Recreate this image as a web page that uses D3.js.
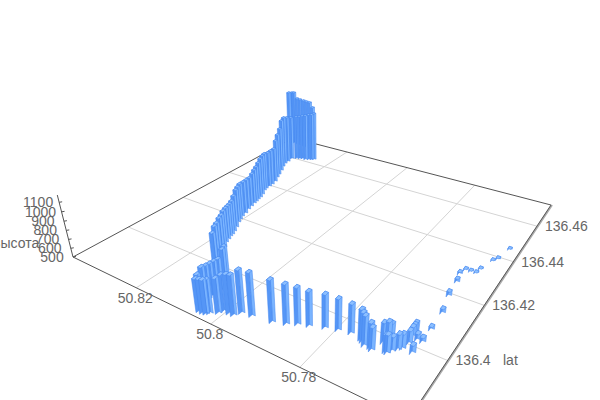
<!DOCTYPE html>
<html><head><meta charset="utf-8"><style>html,body{margin:0;background:#fff}svg{display:block}text{font-family:"Liberation Sans",Arial,sans-serif;fill:#666}</style>
<script src="https://cdn.jsdelivr.net/npm/d3@7"></script></head><body><svg id="c" width="600" height="400"></svg>
<script>
const lons=[50.7972,50.7950,50.7908,50.7883,50.7865,50.7845,50.7818,50.7795,50.7771,50.7748,50.7743,50.7735,50.7724,50.7719,50.7711,50.7704,
50.7700,50.7697,50.7693,50.7688,50.7681,50.7676,50.7672,50.7676,50.7677,50.7675,50.7664,50.7654,50.7657,50.7655,50.7657,50.7668,
50.7672,50.7678,50.7673,50.7662,50.7651,50.7648,50.7637,50.7630,50.7621,50.8042,50.8033,50.8026,50.8021,50.8008,50.8003,50.7990,
50.7980,50.8049,50.8057,50.8055,50.8053,50.8053,50.8053,50.8064,50.8078,50.8113,50.8127,50.8137,50.8146,50.8153,50.8164,50.8168,
50.8173,50.8175,50.8180,50.8188,50.8199,50.8205,50.8210,50.8213,50.8220,50.8224,50.8228,50.8230,50.8233,50.8235,50.8241,50.8251,
50.8254,50.8254,50.8255,50.8259,50.8270,50.8277,50.8287,50.8299,50.8306,50.8307,50.8315,50.8310,50.8298,50.8290,50.8283,50.8272,
50.8264,50.8257,50.8252,50.8386,50.8378,50.8373,50.8361,50.8349,50.8336,50.8324,50.8308,50.8292];
const lats=[136.3891,136.3895,136.3903,136.3914,136.3926,136.3935,136.3948,136.3957,136.3963,136.3958,136.3954,136.3946,136.3947,136.3943,136.3974,136.3979,
136.3983,136.3953,136.3952,136.3963,136.3973,136.3980,136.4001,136.4024,136.4042,136.4029,136.4019,136.4019,136.3980,136.4063,136.4125,136.4188,
136.4246,136.4280,136.4303,136.4304,136.4305,136.4325,136.4375,136.4389,136.4447,136.3846,136.3846,136.3848,136.3853,136.3864,136.3875,136.3875,
136.3876,136.3859,136.3881,136.3891,136.3901,136.3914,136.3927,136.3955,136.3977,136.3985,136.4009,136.4028,136.4048,136.4064,136.4084,136.4098,
136.4112,136.4122,136.4136,136.4155,136.4178,136.4193,136.4208,136.4226,136.4248,136.4266,136.4284,136.4296,136.4309,136.4322,136.4340,136.4363,
136.4376,136.4392,136.4407,136.4428,136.4454,136.4474,136.4501,136.4528,136.4550,136.4568,136.4591,136.4594,136.4604,136.4609,136.4614,136.4613,
136.4619,136.4624,136.4628,136.4701,136.4707,136.4710,136.4709,136.4707,136.4706,136.4704,136.4696,136.4687];
const heights=[956,960,944,920,891,867,857,834,813,820,810,818,769,745,722,732,
712,690,704,664,675,668,649,613,604,623,582,565,598,549,561,562,
552,535,525,522,520,522,522,525,522,851,863,864,864,873,891,919,
928,850,859,854,855,850,844,866,827,895,899,881,884,876,868,870,
861,862,864,879,894,896,899,889,869,859,874,899,913,940,955,947,
949,938,940,931,986,1028,1059,1117,1122,1099,1064,1064,1077,1077,1090,1102,
1115,1115,1128,1214,1214,1214,1144,1142,1140,1138,1148,1104];
const lonTicks=[50.82,50.8,50.78], latTicks=[136.4,136.42,136.44,136.46], hTicks=[500,600,700,800,900,1000,1100];
const S=d3.scaleLinear([50.84,50.76],[0,1]), T=d3.scaleLinear([136.383,136.474],[0,1]), Z=d3.scaleLinear([500,1175],[0,1]);
const P=[[73,257],[408,420],[551,205],[293,138]], V=[322,1240], K=-0.0593;
const dx1=P[1][0]-P[2][0],dx2=P[3][0]-P[2][0],sx=P[0][0]-P[1][0]+P[2][0]-P[3][0];
const dy1=P[1][1]-P[2][1],dy2=P[3][1]-P[2][1],sy=P[0][1]-P[1][1]+P[2][1]-P[3][1];
const det=dx1*dy2-dx2*dy1,g=(sx*dy2-dx2*sy)/det,h=(dx1*sy-sx*dy1)/det;
const a=P[1][0]-P[0][0]+g*P[1][0],b=P[3][0]-P[0][0]+h*P[3][0],c=P[0][0],d=P[1][1]-P[0][1]+g*P[1][1],e=P[3][1]-P[0][1]+h*P[3][1],f=P[0][1];
function pr(s,t,z=0){const w=g*s+h*t+1+z*K;return [(a*s+b*t+c+z*K*V[0])/w,(d*s+e*t+f+z*K*V[1])/w];}
const bars=lons.map((lon,i)=>({lon,lat:lats[i],val:heights[i]}));
const svg=d3.select('#c');
const L=(p,q,col,wd)=>svg.append('line').attr('x1',p[0]).attr('y1',p[1]).attr('x2',q[0]).attr('y2',q[1]).attr('stroke',col).attr('stroke-width',wd);
lonTicks.forEach(v=>L(pr(S(v),0),pr(S(v),1),'#d4d4d4',1));
latTicks.forEach(v=>L(pr(0,T(v)),pr(1,T(v)),'#d4d4d4',1));
L(P[0],P[3],'#555',1);L(P[3],P[2],'#555',1);L(P[0],P[1],'#555',1);
L([P[1][0]+1,P[1][1]],[P[2][0]+1,P[2][1]],'#aaa',2);L(P[1],P[2],'#555',1);
L(pr(0,0,0),pr(0,0,1),'#555',1);
hTicks.forEach(v=>{const p=pr(0,0,Z(v));L(p,[p[0]+3,p[1]-0.5],'#555',1);
 svg.append('text').attr('x',p[0]-21).attr('y',p[1]+5).attr('text-anchor','middle').attr('font-size',14).text(v);});
lonTicks.forEach(v=>{const p=pr(S(v),0);svg.append('text').attr('x',p[0]-1).attr('y',p[1]+15).attr('text-anchor','middle').attr('font-size',14).text(v);});
latTicks.forEach(v=>{const p=pr(1,T(v));svg.append('text').attr('x',p[0]+8).attr('y',p[1]+5).attr('font-size',14).text(v);});
svg.append('text').attr('x',503).attr('y',365).attr('font-size',14).text('lat');
svg.append('text').attr('x',-7).attr('y',248).attr('font-size',14).text('высота');
const ds=.0045,dt=.0065;
const dep=b=>g*S(b.lon)+h*T(b.lat);
bars.slice().sort((p,q)=>dep(q)-dep(p)).forEach(br=>{
 const s=S(br.lon),t=T(br.lat),z=Z(br.val);
 const cs=[[s-ds,t-dt],[s+ds,t-dt],[s+ds,t+dt],[s-ds,t+dt]];
 const bot=cs.map(q=>pr(q[0],q[1],0)),top=cs.map(q=>pr(q[0],q[1],z));
 const fills=['#5596f6','#7ab4ff','#7ab4ff','#5596f6'];
 for(let i=0;i<4;i++){const j=(i+1)%4,poly=[bot[i],bot[j],top[j],top[i]];
  if(d3.polygonArea(poly)>0) continue;
  svg.append('path').attr('d','M'+poly.join('L')+'Z').attr('fill',fills[i]).attr('stroke','#4586ee').attr('stroke-width',.5);}
 svg.append('path').attr('d','M'+top.join('L')+'Z').attr('fill','#8cbfff').attr('stroke','#4586ee').attr('stroke-width',.5);
});
</script></body></html>
